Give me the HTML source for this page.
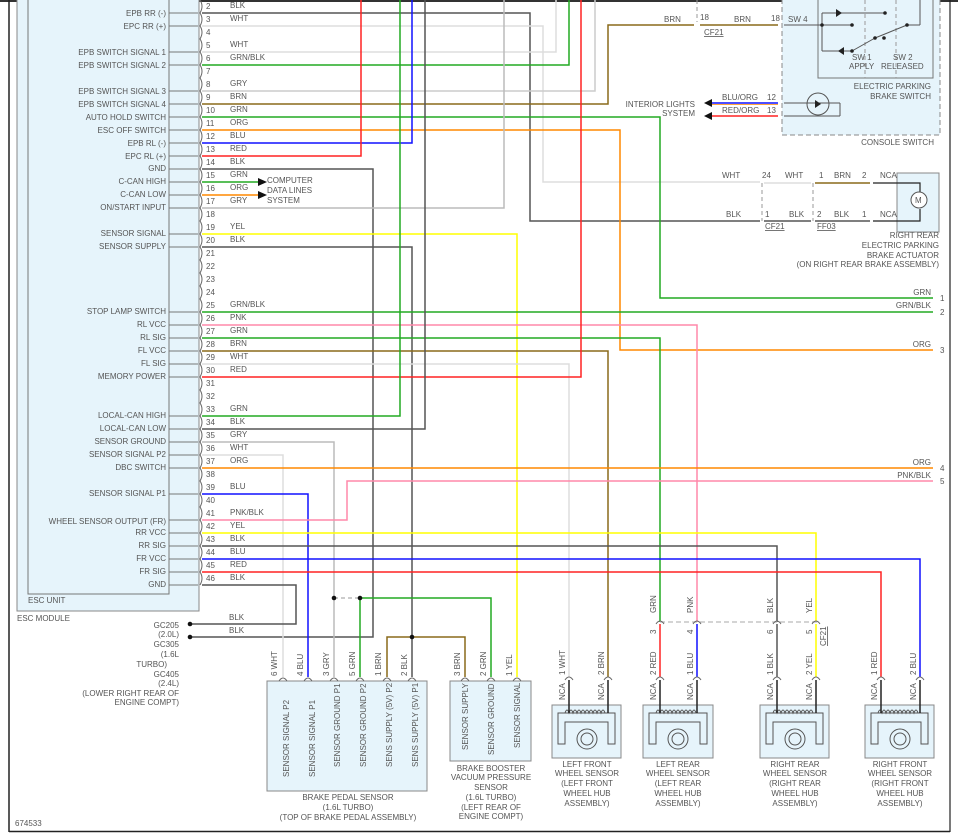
<!DOCTYPE html>
<html><head><meta charset="utf-8"><style>
html,body{margin:0;padding:0;background:#fff;}
svg{display:block;}
text{font-family:"Liberation Sans",sans-serif;font-size:8px;fill:#555;}
</style></head><body>
<svg width="958" height="839" viewBox="0 0 958 839" xmlns="http://www.w3.org/2000/svg">
<rect x="0" y="0" width="958" height="839" fill="#fff"/>
<!-- frame -->
<line x1="0" y1="1" x2="958" y2="1" stroke="#333" stroke-width="2"/>
<line x1="9" y1="0" x2="9" y2="832" stroke="#222" stroke-width="1.5"/>
<line x1="9" y1="831.5" x2="950" y2="831.5" stroke="#222" stroke-width="1.5"/>
<line x1="950" y1="0" x2="950" y2="832" stroke="#222" stroke-width="1.2"/>
<!-- ESC module -->
<rect x="17" y="-2" width="182" height="613" fill="#e6f4fb" stroke="#888" stroke-width="1"/>
<rect x="28" y="-2" width="141" height="596" fill="#e6f4fb" stroke="#777" stroke-width="1"/>
<text x="28" y="603">ESC UNIT</text>
<text x="17" y="621">ESC MODULE</text>
<!-- console switch -->
<rect x="782" y="-2" width="158" height="137" fill="#e6f4fb" stroke="#888" stroke-dasharray="5,3"/>
<rect x="818" y="-2" width="115" height="80" fill="#e6f4fb" stroke="#777"/>
<line x1="865" y1="0" x2="865" y2="78" stroke="#999" stroke-dasharray="4,3"/>
<line x1="896" y1="0" x2="896" y2="78" stroke="#999" stroke-dasharray="4,3"/>
<g stroke="#555" fill="none" stroke-width="1">
<line x1="784" y1="25" x2="852" y2="25"/><line x1="822" y1="13" x2="822" y2="51"/>
<line x1="822" y1="13" x2="885" y2="13"/><line x1="822" y1="51" x2="852" y2="51"/>
<line x1="852" y1="51" x2="875" y2="38"/><line x1="875" y1="38" x2="907" y2="25"/>
<line x1="907" y1="25" x2="920" y2="25"/><line x1="920" y1="25" x2="920" y2="0"/>
<line x1="784" y1="103" x2="840" y2="103"/><line x1="840" y1="103" x2="840" y2="116"/><line x1="784" y1="116" x2="840" y2="116"/>
<circle cx="818" cy="104" r="11"/>
</g>
<g fill="#222"><circle cx="885" cy="13" r="1.8"/><circle cx="822" cy="25" r="1.8"/><circle cx="852" cy="25" r="1.8"/><circle cx="852" cy="51" r="1.8"/><circle cx="875" cy="38" r="1.8"/><circle cx="884" cy="38" r="1.8"/><circle cx="907" cy="25" r="1.8"/>
<path d="M836 9 L842 13 L836 17Z"/><path d="M844 47 L838 51 L844 55Z"/><path d="M815 100 L821 104 L815 108Z"/></g>
<text x="852" y="60">SW 1</text><text x="849" y="69">APPLY</text>
<text x="893" y="60">SW 2</text><text x="881" y="69">RELEASED</text>
<text x="931" y="89" text-anchor="end">ELECTRIC PARKING</text>
<text x="931" y="99" text-anchor="end">BRAKE SWITCH</text>
<text x="934" y="145" text-anchor="end">CONSOLE SWITCH</text>
<text x="788" y="22">SW 4</text>
<text x="771" y="21">18</text><text x="734" y="22">BRN</text><text x="664" y="22">BRN</text><text x="700" y="20">18</text>
<text x="704" y="35" text-decoration="underline">CF21</text>
<line x1="697" y1="0" x2="697" y2="22" stroke="#999" stroke-dasharray="4,3"/>
<!-- interior lights -->
<line x1="712" y1="103" x2="778" y2="103" stroke="#11f" stroke-width="1.5"/>
<line x1="712" y1="104.5" x2="778" y2="104.5" stroke="#f80" stroke-width="0.8"/>
<line x1="712" y1="116" x2="778" y2="116" stroke="#f22" stroke-width="1.5"/>
<path d="M704 103 L712 99 L712 107Z M704 116 L712 112 L712 120Z" fill="#111"/>
<text x="695" y="107" text-anchor="end">INTERIOR LIGHTS</text><text x="695" y="116" text-anchor="end">SYSTEM</text>
<text x="722" y="100">BLU/ORG</text><text x="722" y="113">RED/ORG</text>
<text x="767" y="100">12</text><text x="767" y="113">13</text>
<!-- actuator -->
<rect x="897" y="173" width="42" height="59" fill="#e6f4fb" stroke="#888"/>
<path d="M873 183 H920 V192 M920 209 V221 H873" stroke="#222" fill="none" stroke-width="1.2"/>
<circle cx="919" cy="200" r="8" fill="#fff" stroke="#555"/><text x="915" y="203" style="font-size:8px">M</text>
<text x="880" y="178">NCA</text><text x="880" y="217">NCA</text>
<text x="862" y="178">2</text><text x="862" y="217">1</text>
<text x="834" y="178">BRN</text><text x="834" y="217">BLK</text>
<text x="819" y="178">1</text><text x="817" y="217">2</text>
<text x="785" y="178">WHT</text><text x="789" y="217">BLK</text>
<text x="762" y="178">24</text><text x="765" y="217">1</text>
<text x="722" y="178">WHT</text><text x="726" y="217">BLK</text>
<text x="765" y="229" text-decoration="underline">CF21</text><text x="817" y="229" text-decoration="underline">FF03</text>
<line x1="762" y1="183" x2="762" y2="221" stroke="#999" stroke-dasharray="4,3"/>
<line x1="813" y1="183" x2="813" y2="221" stroke="#999" stroke-dasharray="4,3"/>
<text x="939" y="238" text-anchor="end">RIGHT REAR</text>
<text x="939" y="248" text-anchor="end">ELECTRIC PARKING</text>
<text x="939" y="258" text-anchor="end">BRAKE ACTUATOR</text>
<text x="939" y="267" text-anchor="end">(ON RIGHT REAR BRAKE ASSEMBLY)</text>

<!-- wires -->
<g fill="none" stroke-width="1.5">
<path d="M202 13 H530 V221 H760" stroke="#555"/>
<path d="M815 221 H870" stroke="#555"/><path d="M764 221 H811" stroke="#555"/>
<path d="M202 26 H543 V182 H760" stroke="#ddd"/>
<path d="M764 183 H811" stroke="#ddd"/><path d="M815 183 H870" stroke="#8a6a1a"/>
<path d="M202 52 H556 V0" stroke="#ddd"/>
<path d="M202 65 H569 V0" stroke="#2a2"/>
<path d="M202 91 H595 V0" stroke="#ccc"/>
<path d="M202 104 H608 V25 H694" stroke="#8a6a1a"/>
<path d="M700 25 H778" stroke="#8a6a1a"/>
<path d="M202 117 H660 V298 H933" stroke="#2a2"/>
<path d="M202 130 H620 V350 H933" stroke="#f80"/>
<path d="M202 143 H412 V0" stroke="#11f"/>
<path d="M202 156 H361 V0" stroke="#f22"/>
<path d="M202 169 H373 V637 H190" stroke="#555"/>
<path d="M202 182 H258" stroke="#2a2"/>
<path d="M202 195 H258" stroke="#f80"/>
<path d="M202 208 H504 V0" stroke="#bbb"/>
<path d="M202 234 H517 V677" stroke="#ff0"/>
<path d="M202 247 H412 V677" stroke="#555"/>
<path d="M202 312 H933" stroke="#2a2"/>
<path d="M202 325 H697 V622" stroke="#f8a"/>
<path d="M202 338 H660 V622" stroke="#2a2"/>
<path d="M202 351 H608 V677" stroke="#8a6a1a"/>
<path d="M202 364 H569 V677" stroke="#ddd"/>
<path d="M202 377 H581 V0" stroke="#f22"/>
<path d="M202 416 H400 V0" stroke="#2a2"/>
<path d="M202 429 H425 V0" stroke="#555"/>
<path d="M202 442 H334 V677" stroke="#bbb"/>
<path d="M202 455 H283 V677" stroke="#ddd"/>
<path d="M202 468 H933" stroke="#f80"/>
<path d="M202 494 H308 V677" stroke="#11f"/>
<path d="M202 520 H347 V481 H933" stroke="#f8a"/>
<path d="M202 533 H816 V622" stroke="#ff0"/>
<path d="M202 546 H777 V622" stroke="#555"/>
<path d="M202 559 H920 V677" stroke="#11f"/>
<path d="M202 572 H881 V677" stroke="#f22"/>
<path d="M202 585 H296 V624 H190" stroke="#555"/>
<path d="M360 598 H491 V677 M360 598 V677" stroke="#2a2"/>
<path d="M387 677 V637 H465 V677" stroke="#8a6a1a"/>
<path d="M660 624 V677" stroke="#f22"/><path d="M697 624 V677" stroke="#11f"/>
<path d="M777 624 V677" stroke="#555"/><path d="M816 624 V677" stroke="#ff0"/>
</g>
<line x1="334" y1="598" x2="360" y2="598" stroke="#999" stroke-dasharray="4,3"/>
<line x1="660" y1="622" x2="820" y2="622" stroke="#bbb" stroke-width="1.2" stroke-dasharray="5,3"/>
<g fill="#111"><circle cx="334" cy="598" r="2.3"/><circle cx="360" cy="598" r="2.3"/><circle cx="412" cy="637" r="2.3"/>
<circle cx="190" cy="624" r="2.3"/><circle cx="190" cy="637" r="2.3"/>
<path d="M258 178 L267 182 L258 186Z M258 191 L267 195 L258 199Z"/></g>
<text x="267" y="183">COMPUTER</text><text x="267" y="193">DATA LINES</text><text x="267" y="203">SYSTEM</text>
<text x="229" y="620">BLK</text><text x="229" y="633">BLK</text>
<g text-anchor="end"><text x="179" y="628">GC205</text><text x="179" y="637">(2.0L)</text><text x="179" y="647">GC305</text><text x="179" y="657">(1.6L</text><text x="167" y="667">TURBO)</text><text x="179" y="677">GC405</text><text x="179" y="686">(2.4L)</text><text x="179" y="696">(LOWER RIGHT REAR OF</text><text x="179" y="705">ENGINE COMPT)</text></g>
<text x="15" y="826">674533</text>
<!-- right edge labels -->
<g text-anchor="end"><text x="931" y="295">GRN</text><text x="931" y="308">GRN/BLK</text><text x="931" y="347">ORG</text><text x="931" y="465">ORG</text><text x="931" y="478">PNK/BLK</text></g>
<text x="940" y="301">1</text><text x="940" y="315">2</text><text x="940" y="353">3</text><text x="940" y="471">4</text><text x="940" y="484">5</text>

<!-- ESC pins -->
<g id="pins" stroke="#777" fill="none" stroke-width="1">
<path d="M169 13H198M169 26H198M169 52H198M169 65H198M169 91H198M169 104H198M169 117H198M169 130H198M169 143H198M169 156H198M169 169H198M169 182H198M169 195H198M169 208H198M169 234H198M169 247H198M169 312H198M169 325H198M169 338H198M169 351H198M169 364H198M169 377H198M169 416H198M169 429H198M169 442H198M169 455H198M169 468H198M169 494H198M169 520H198M169 533H198M169 546H198M169 559H198M169 572H198M169 585H198"/>
</g>
<path id="cc" d="" />
<g stroke="#666" fill="none" stroke-width="1">
<path d="M200 0 q4 6 0 13 q4 6 0 13 q4 6 0 13 q4 6 0 13 q4 6 0 13 q4 6 0 13 q4 6 0 13 q4 6 0 13 q4 6 0 13 q4 6 0 13 q4 6 0 13 q4 6 0 13 q4 6 0 13 q4 6 0 13 q4 6 0 13 q4 6 0 13 q4 6 0 13 q4 6 0 13 q4 6 0 13 q4 6 0 13 q4 6 0 13 q4 6 0 13 q4 6 0 13 q4 6 0 13 q4 6 0 13 q4 6 0 13 q4 6 0 13 q4 6 0 13 q4 6 0 13 q4 6 0 13 q4 6 0 13 q4 6 0 13 q4 6 0 13 q4 6 0 13 q4 6 0 13 q4 6 0 13 q4 6 0 13 q4 6 0 13 q4 6 0 13 q4 6 0 13 q4 6 0 13 q4 6 0 13 q4 6 0 13 q4 6 0 13 q4 6 0 13"/>
</g>
<g text-anchor="end">
<text x="166" y="16">EPB RR (-)</text><text x="166" y="29">EPC RR (+)</text><text x="166" y="55">EPB SWITCH SIGNAL 1</text><text x="166" y="68">EPB SWITCH SIGNAL 2</text>
<text x="166" y="94">EPB SWITCH SIGNAL 3</text><text x="166" y="107">EPB SWITCH SIGNAL 4</text><text x="166" y="120">AUTO HOLD SWITCH</text><text x="166" y="133">ESC OFF SWITCH</text>
<text x="166" y="146">EPB RL (-)</text><text x="166" y="159">EPC RL (+)</text><text x="166" y="171">GND</text><text x="166" y="184">C-CAN HIGH</text>
<text x="166" y="197">C-CAN LOW</text><text x="166" y="210">ON/START INPUT</text><text x="166" y="236">SENSOR SIGNAL</text><text x="166" y="249">SENSOR SUPPLY</text>
<text x="166" y="314">STOP LAMP SWITCH</text><text x="166" y="327">RL VCC</text><text x="166" y="340">RL SIG</text><text x="166" y="353">FL VCC</text>
<text x="166" y="366">FL SIG</text><text x="166" y="379">MEMORY POWER</text><text x="166" y="418">LOCAL-CAN HIGH</text><text x="166" y="431">LOCAL-CAN LOW</text>
<text x="166" y="444">SENSOR GROUND</text><text x="166" y="457">SENSOR SIGNAL P2</text><text x="166" y="470">DBC SWITCH</text><text x="166" y="496">SENSOR SIGNAL P1</text>
<text x="166" y="524">WHEEL SENSOR OUTPUT (FR)</text><text x="166" y="535">RR VCC</text><text x="166" y="548">RR SIG</text><text x="166" y="561">FR VCC</text>
<text x="166" y="574">FR SIG</text><text x="166" y="587">GND</text>
</g>
<g>
<text x="206" y="9">2</text><text x="206" y="22">3</text><text x="206" y="35">4</text><text x="206" y="48">5</text><text x="206" y="61">6</text><text x="206" y="74">7</text><text x="206" y="87">8</text><text x="206" y="100">9</text>
<text x="206" y="113">10</text><text x="206" y="126">11</text><text x="206" y="139">12</text><text x="206" y="152">13</text><text x="206" y="165">14</text><text x="206" y="178">15</text><text x="206" y="191">16</text><text x="206" y="204">17</text>
<text x="206" y="217">18</text><text x="206" y="230">19</text><text x="206" y="243">20</text><text x="206" y="256">21</text><text x="206" y="269">22</text><text x="206" y="282">23</text><text x="206" y="295">24</text><text x="206" y="308">25</text>
<text x="206" y="321">26</text><text x="206" y="334">27</text><text x="206" y="347">28</text><text x="206" y="360">29</text><text x="206" y="373">30</text><text x="206" y="386">31</text><text x="206" y="399">32</text><text x="206" y="412">33</text>
<text x="206" y="425">34</text><text x="206" y="438">35</text><text x="206" y="451">36</text><text x="206" y="464">37</text><text x="206" y="477">38</text><text x="206" y="490">39</text><text x="206" y="503">40</text><text x="206" y="516">41</text>
<text x="206" y="529">42</text><text x="206" y="542">43</text><text x="206" y="555">44</text><text x="206" y="568">45</text><text x="206" y="581">46</text>
</g>
<g>
<text x="230" y="8">BLK</text><text x="230" y="21">WHT</text><text x="230" y="47">WHT</text><text x="230" y="60">GRN/BLK</text><text x="230" y="86">GRY</text><text x="230" y="99">BRN</text>
<text x="230" y="112">GRN</text><text x="230" y="125">ORG</text><text x="230" y="138">BLU</text><text x="230" y="151">RED</text><text x="230" y="164">BLK</text><text x="230" y="177">GRN</text>
<text x="230" y="190">ORG</text><text x="230" y="203">GRY</text><text x="230" y="229">YEL</text><text x="230" y="242">BLK</text><text x="230" y="307">GRN/BLK</text><text x="230" y="320">PNK</text>
<text x="230" y="333">GRN</text><text x="230" y="346">BRN</text><text x="230" y="359">WHT</text><text x="230" y="372">RED</text><text x="230" y="411">GRN</text><text x="230" y="424">BLK</text>
<text x="230" y="437">GRY</text><text x="230" y="450">WHT</text><text x="230" y="463">ORG</text><text x="230" y="489">BLU</text><text x="230" y="515">PNK/BLK</text><text x="230" y="528">YEL</text>
<text x="230" y="541">BLK</text><text x="230" y="554">BLU</text><text x="230" y="567">RED</text><text x="230" y="580">BLK</text>
</g>

<!-- brake pedal sensor -->
<rect x="267" y="681" width="160" height="110" fill="#e6f4fb" stroke="#888"/>
<rect x="450" y="681" width="81" height="80" fill="#e6f4fb" stroke="#888"/>
<g stroke="#666" fill="none" stroke-width="1">
<path d="M279 681 q4 -6 8 0 M304 681 q4 -6 8 0 M330 681 q4 -6 8 0 M356 681 q4 -6 8 0 M383 681 q4 -6 8 0 M408 681 q4 -6 8 0 M461 681 q4 -6 8 0 M487 681 q4 -6 8 0 M513 681 q4 -6 8 0"/>
</g>
<g transform="rotate(-90)" style="font-size:8px">
<text x="-777" y="289">SENSOR SIGNAL P2</text><text x="-777" y="315">SENSOR SIGNAL P1</text><text x="-767" y="340">SENSOR GROUND P1</text><text x="-767" y="366">SENSOR GROUND P2</text>
<text x="-767" y="392">SENS SUPPLY (5V) P2</text><text x="-767" y="418">SENS SUPPLY (5V) P1</text>
<text x="-750" y="468">SENSOR SUPPLY</text><text x="-755" y="494">SENSOR GROUND</text><text x="-748" y="520">SENSOR SIGNAL</text>
<text x="-676" y="277">6  WHT</text><text x="-676" y="303">4  BLU</text><text x="-676" y="329">3  GRY</text><text x="-676" y="355">5  GRN</text><text x="-676" y="381">1  BRN</text><text x="-676" y="407">2  BLK</text>
<text x="-676" y="460">3  BRN</text><text x="-676" y="486">2  GRN</text><text x="-676" y="512">1  YEL</text>
</g>
<g text-anchor="middle">
<text x="348" y="800">BRAKE PEDAL SENSOR</text><text x="348" y="810">(1.6L TURBO)</text><text x="348" y="820">(TOP OF BRAKE PEDAL ASSEMBLY)</text>
<text x="491" y="771">BRAKE BOOSTER</text><text x="491" y="780">VACUUM PRESSURE</text><text x="491" y="790">SENSOR</text><text x="491" y="800">(1.6L TURBO)</text><text x="491" y="810">(LEFT REAR OF</text><text x="491" y="819">ENGINE COMPT)</text>
</g>

<!-- wheel sensors -->
<g id="ws">
<rect x="552" y="705" width="69" height="53" fill="#e6f4fb" stroke="#888"/>
<rect x="643" y="705" width="70" height="53" fill="#e6f4fb" stroke="#888"/>
<rect x="760" y="705" width="69" height="53" fill="#e6f4fb" stroke="#888"/>
<rect x="865" y="705" width="69" height="53" fill="#e6f4fb" stroke="#888"/>
</g>
<g stroke="#555" fill="none" stroke-width="1">
<path d="M558 744 V713 H615 V744 H608 V722 H565 V744Z"/><circle cx="587" cy="739" r="10"/><circle cx="587" cy="739" r="6"/>
<path d="M649 744 V713 H707 V744 H700 V722 H656 V744Z"/><circle cx="678" cy="739" r="10"/><circle cx="678" cy="739" r="6"/>
<path d="M766 744 V713 H823 V744 H816 V722 H773 V744Z"/><circle cx="795" cy="739" r="10"/><circle cx="795" cy="739" r="6"/>
<path d="M871 744 V713 H928 V744 H921 V722 H878 V744Z"/><circle cx="900" cy="739" r="10"/><circle cx="900" cy="739" r="6"/>
<path d="M565 713 q2 -6 4 0 q2 -6 4 0 q2 -6 4 0 q2 -6 4 0 q2 -6 4 0 q2 -6 4 0 q2 -6 4 0 q2 -6 4 0 q2 -6 4 0 q2 -6 4 0"/>
<path d="M656 713 q2 -6 4 0 q2 -6 4 0 q2 -6 4 0 q2 -6 4 0 q2 -6 4 0 q2 -6 4 0 q2 -6 4 0 q2 -6 4 0 q2 -6 4 0 q2 -6 4 0"/>
<path d="M773 713 q2 -6 4 0 q2 -6 4 0 q2 -6 4 0 q2 -6 4 0 q2 -6 4 0 q2 -6 4 0 q2 -6 4 0 q2 -6 4 0 q2 -6 4 0 q2 -6 4 0"/>
<path d="M878 713 q2 -6 4 0 q2 -6 4 0 q2 -6 4 0 q2 -6 4 0 q2 -6 4 0 q2 -6 4 0 q2 -6 4 0 q2 -6 4 0 q2 -6 4 0 q2 -6 4 0"/>
</g>
<g stroke="#222" stroke-width="1.5">
<path d="M569 680V713M608 680V713M660 680V713M697 680V713M777 680V713M816 680V713M881 680V713M920 680V713"/>
</g>
<g stroke="#666" fill="none">
<path d="M565 680 q4 -6 8 0 M604 680 q4 -6 8 0 M656 680 q4 -6 8 0 M693 680 q4 -6 8 0 M773 680 q4 -6 8 0 M812 680 q4 -6 8 0 M877 680 q4 -6 8 0 M916 680 q4 -6 8 0"/>
<path d="M656 624 q4 -6 8 0 M693 624 q4 -6 8 0 M773 624 q4 -6 8 0 M812 624 q4 -6 8 0"/>
</g>
<g transform="rotate(-90)">
<text x="-700" y="565">NCA</text><text x="-700" y="604">NCA</text><text x="-700" y="656">NCA</text><text x="-700" y="693">NCA</text><text x="-700" y="773">NCA</text><text x="-700" y="812">NCA</text><text x="-700" y="877">NCA</text><text x="-700" y="916">NCA</text>
<text x="-675" y="565">1  WHT</text><text x="-675" y="604">2  BRN</text><text x="-675" y="656">2  RED</text><text x="-675" y="693">1  BLU</text><text x="-675" y="773">1  BLK</text><text x="-675" y="812">2  YEL</text><text x="-675" y="877">1  RED</text><text x="-675" y="916">2  BLU</text>
<text x="-613" y="656">GRN</text><text x="-613" y="693">PNK</text><text x="-613" y="773">BLK</text><text x="-613" y="812">YEL</text>
<text x="-634" y="656">3</text><text x="-634" y="693">4</text><text x="-634" y="773">6</text><text x="-634" y="812">5</text>
<text x="-646" y="826" text-decoration="underline">CF21</text>
</g>
<g text-anchor="middle">
<text x="587" y="767">LEFT FRONT</text><text x="587" y="776">WHEEL SENSOR</text><text x="587" y="786">(LEFT FRONT</text><text x="587" y="796">WHEEL HUB</text><text x="587" y="806">ASSEMBLY)</text>
<text x="678" y="767">LEFT REAR</text><text x="678" y="776">WHEEL SENSOR</text><text x="678" y="786">(LEFT REAR</text><text x="678" y="796">WHEEL HUB</text><text x="678" y="806">ASSEMBLY)</text>
<text x="795" y="767">RIGHT REAR</text><text x="795" y="776">WHEEL SENSOR</text><text x="795" y="786">(RIGHT REAR</text><text x="795" y="796">WHEEL HUB</text><text x="795" y="806">ASSEMBLY)</text>
<text x="900" y="767">RIGHT FRONT</text><text x="900" y="776">WHEEL SENSOR</text><text x="900" y="786">(RIGHT FRONT</text><text x="900" y="796">WHEEL HUB</text><text x="900" y="806">ASSEMBLY)</text>
</g>
</svg>
</body></html>
